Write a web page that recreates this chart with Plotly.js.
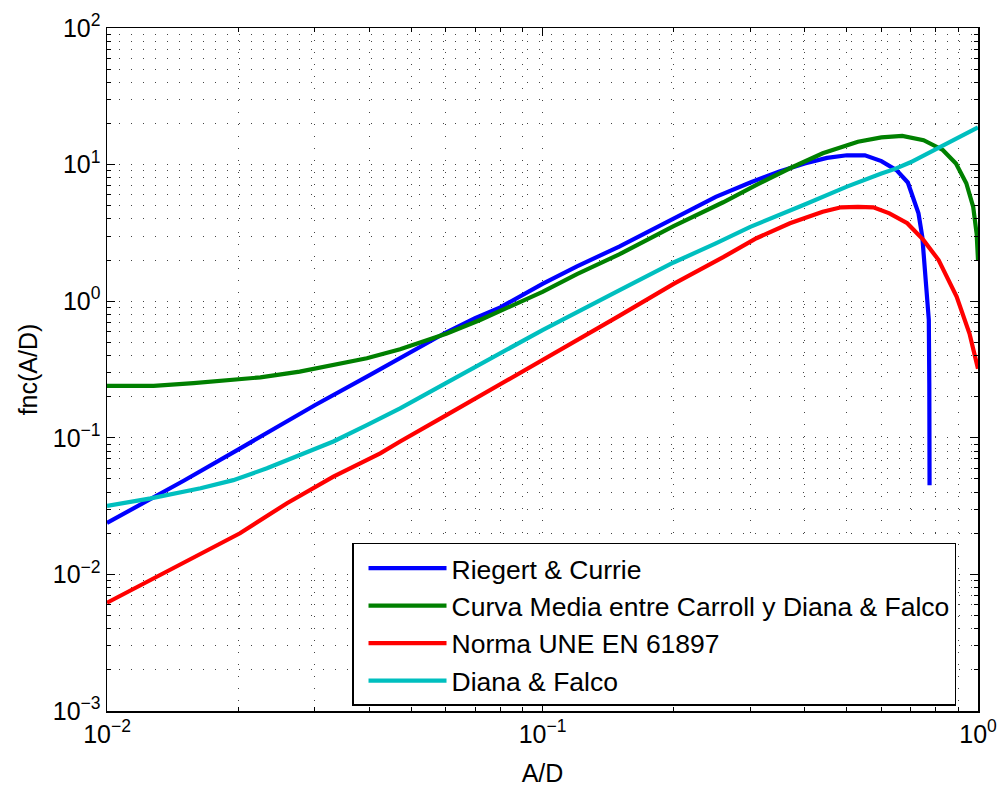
<!DOCTYPE html>
<html>
<head>
<meta charset="utf-8">
<script src="https://cdn.plot.ly/plotly-3.0.1.min.js"></script>
<style>
  html, body { margin: 0; padding: 0; background: #ffffff; }
  #chart { width: 999px; height: 787px; }
</style>
</head>
<body>
<div id="chart"></div>
<script>
// Series labels and colours
const seriesNames = [
  'Riegert & Currie',
  'Curva Media entre Carroll y Diana & Falco',
  'Norma UNE EN 61897',
  'Diana & Falco'
];
const seriesColors = ['#0000ff', '#008000', '#ff0000', '#00bfbf'];

// Riegert & Currie
const riegertX = [0.01, 0.015, 0.02, 0.03, 0.04, 0.05, 0.06, 0.07, 0.08, 0.1, 0.12, 0.15, 0.2, 0.25, 0.3, 0.35, 0.4, 0.45, 0.5, 0.55, 0.6, 0.65, 0.69, 0.71, 0.73, 0.745, 0.755, 0.765, 0.771, 0.773, 0.774];
const riegertY = [0.0238, 0.0485, 0.082, 0.173, 0.286, 0.425, 0.59, 0.75, 0.90, 1.34, 1.80, 2.51, 4.05, 5.8, 7.4, 8.9, 10.2, 11.2, 11.7, 11.7, 10.6, 9.1, 7.4, 5.8, 4.4, 2.95, 1.8, 0.92, 0.73, 0.25, 0.045];

// Curva Media entre Carroll y Diana & Falco
const mediaX = [0.01, 0.0128, 0.0158, 0.0188, 0.0225, 0.0277, 0.0331, 0.0395, 0.0471, 0.0603, 0.0719, 0.0857, 0.1, 0.12, 0.15, 0.2, 0.26, 0.31, 0.37, 0.44, 0.53, 0.6, 0.67, 0.75, 0.83, 0.89, 0.94, 0.975, 0.993, 1.0];
const mediaY = [0.240, 0.240, 0.251, 0.262, 0.277, 0.305, 0.341, 0.382, 0.445, 0.581, 0.728, 0.94, 1.17, 1.58, 2.2, 3.55, 5.3, 7.1, 9.4, 12.1, 14.7, 15.8, 16.2, 15.1, 12.8, 10.2, 7.3, 4.9, 3.1, 2.0];

// Norma UNE EN 61897
const normaX = [0.01, 0.0126, 0.0164, 0.0202, 0.0259, 0.0331, 0.0424, 0.0471, 0.0603, 0.0857, 0.1, 0.12, 0.15, 0.2, 0.218, 0.26, 0.31, 0.37, 0.44, 0.485, 0.53, 0.575, 0.626, 0.688, 0.749, 0.812, 0.893, 0.956, 1.0];
const normaY = [0.0062, 0.0091, 0.0143, 0.0200, 0.0332, 0.052, 0.077, 0.094, 0.147, 0.279, 0.37, 0.516, 0.78, 1.34, 1.55, 2.10, 2.89, 3.72, 4.52, 4.87, 4.9, 4.87, 4.4, 3.72, 2.81, 2.0, 1.08, 0.58, 0.32];

// Diana & Falco
const dianaX = [0.01, 0.0126, 0.0164, 0.0195, 0.0233, 0.0277, 0.0331, 0.0395, 0.0471, 0.06, 0.0857, 0.1, 0.15, 0.2, 0.25, 0.3, 0.4, 0.5, 0.6, 0.645, 0.7, 0.8, 0.9, 1.0];
const dianaY = [0.0317, 0.036, 0.0427, 0.049, 0.0598, 0.0748, 0.094, 0.124, 0.164, 0.251, 0.47, 0.615, 1.2, 1.92, 2.65, 3.5, 5.1, 6.9, 8.6, 9.3, 10.4, 12.9, 15.6, 18.7];

// Axis ticks
const xTickVals = [0.01, 0.1, 1];
const xTickText = ['10<sup>\u22122</sup>', '10<sup>\u22121</sup>', '10<sup>0</sup>'];
const yTickVals = [0.001, 0.01, 0.1, 1, 10, 100];
const yTickText = ['10<sup>\u22123</sup>', '10<sup>\u22122</sup>', '10<sup>\u22121</sup>', '10<sup>0</sup>', '10<sup>1</sup>', '10<sup>2</sup>'];

// minor (2..9) positions inside each decade
function minorValues(lo, hi) {
  const v = [];
  for (let e = lo; e < hi; e++) {
    for (let m = 2; m <= 9; m++) v.push(m * Math.pow(10, e));
  }
  return v;
}

const xs = [riegertX, mediaX, normaX, dianaX];
const ys = [riegertY, mediaY, normaY, dianaY];

const traces = seriesNames.map((name, i) => ({
  type: 'scatter',
  mode: 'lines',
  name: name,
  x: xs[i],
  y: ys[i],
  line: { color: seriesColors[i], width: 4.2 }
}));

const fontFamily = 'Liberation Sans, Arial, Helvetica, sans-serif';
const gridDots = '1px,11px';
const gridColor = '#444444';

const axisCommon = {
  type: 'log',
  showline: true,
  linecolor: '#000000',
  linewidth: 1.5,
  mirror: 'ticks',
  ticks: 'inside',
  ticklen: 8,
  tickwidth: 1,
  tickcolor: '#000000',
  tickmode: 'array',
  showgrid: true,
  gridcolor: gridColor,
  gridwidth: 1,
  griddash: gridDots,
  zeroline: false,
  tickfont: { family: fontFamily, size: 25, color: '#000000' }
};

const minorCommon = {
  tickmode: 'array',
  ticks: 'inside',
  ticklen: 4,
  tickcolor: '#000000',
  showgrid: true,
  gridcolor: gridColor,
  gridwidth: 1,
  griddash: gridDots
};

const layout = {
  width: 999,
  height: 787,
  margin: { l: 107, r: 21, t: 28, b: 76 },
  paper_bgcolor: '#ffffff',
  plot_bgcolor: '#ffffff',
  font: { family: fontFamily, color: '#000000' },
  showlegend: true,
  xaxis: Object.assign({}, axisCommon, {
    range: [-2, 0],
    tickvals: xTickVals,
    ticktext: xTickText,
    minor: Object.assign({}, minorCommon, { tickvals: minorValues(-2, 0) }),
    title: { text: 'A/D', font: { family: fontFamily, size: 25, color: '#000000' }, standoff: 18 }
  }),
  yaxis: Object.assign({}, axisCommon, {
    range: [-3, 2],
    tickvals: yTickVals,
    ticktext: yTickText,
    minor: Object.assign({}, minorCommon, { tickvals: minorValues(-3, 2) }),
    title: { text: 'fnc(A/D)', font: { family: fontFamily, size: 25, color: '#000000' }, standoff: 8 }
  }),
  legend: {
    x: 0.2813,
    y: 0.246,
    xanchor: 'left',
    yanchor: 'top',
    bgcolor: '#ffffff',
    bordercolor: '#000000',
    borderwidth: 1.5,
    indentation: 10,
    itemwidth: 78,
    font: { family: fontFamily, size: 26.5, color: '#000000' }
  }
};

Plotly.newPlot('chart', traces, layout, { displayModeBar: false, staticPlot: true });
</script>
</body>
</html>
